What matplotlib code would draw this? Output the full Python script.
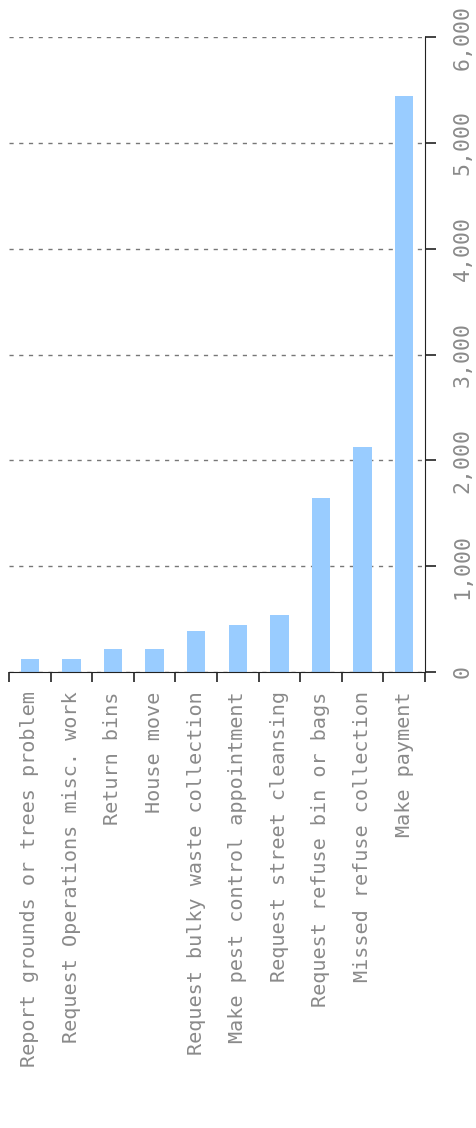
import matplotlib.pyplot as plt
import numpy as np

categories = ['Report grounds or trees problem', 'Request Operations misc. work',
              'Return bins', 'House move', 'Request bulky waste collection',
              'Make pest control appointment', 'Request street cleansing',
              'Request refuse bin or bags', 'Missed refuse collection', 'Make payment']
values = [120, 120, 215, 215, 390, 440, 540, 1640, 2125, 5440]
y_ticks = [0, 1000, 2000, 3000, 4000, 5000, 6000]
y_labels = ['0', '1,000', '2,000', '3,000', '4,000', '5,000', '6,000']

grey = '#8a8a8a'
fig = plt.figure(figsize=(4.77, 11.28), dpi=100)
ax = fig.add_axes([9 / 477, 1 - 672 / 1128, 416 / 477, 635 / 1128])

x = np.arange(len(categories))
ax.bar(x, values, width=0.44, color='#99ccff', zorder=2)
ax.set_xlim(-0.5, len(categories) - 0.5)
ax.set_ylim(0, 6000)

for s in ['left', 'top']:
    ax.spines[s].set_visible(False)
ax.spines['right'].set_color('#222222')
ax.spines['bottom'].set_color('#222222')

ax.yaxis.tick_right()
ax.set_yticks(y_ticks)
ax.set_yticklabels(y_labels, rotation=90, va='center', color=grey, fontsize=15.5,
                   family='DejaVu Sans Mono')
ax.tick_params(axis='y', length=8, width=1.2, color='#222222', pad=12)
ax.grid(axis='y', linestyle=(0, (3, 4)), color='#777777', linewidth=1, zorder=1)

ax.set_xticks(x)
ax.set_xticklabels(categories, rotation=90, color=grey, fontsize=14.5,
                   family='DejaVu Sans Mono')
ax.tick_params(axis='x', length=0, pad=14)
ax.set_xticks(np.arange(-0.5, len(categories)), minor=True)
ax.tick_params(axis='x', which='minor', length=7, width=1.2, color='#222222')

fig.savefig('out.png', dpi=100)
